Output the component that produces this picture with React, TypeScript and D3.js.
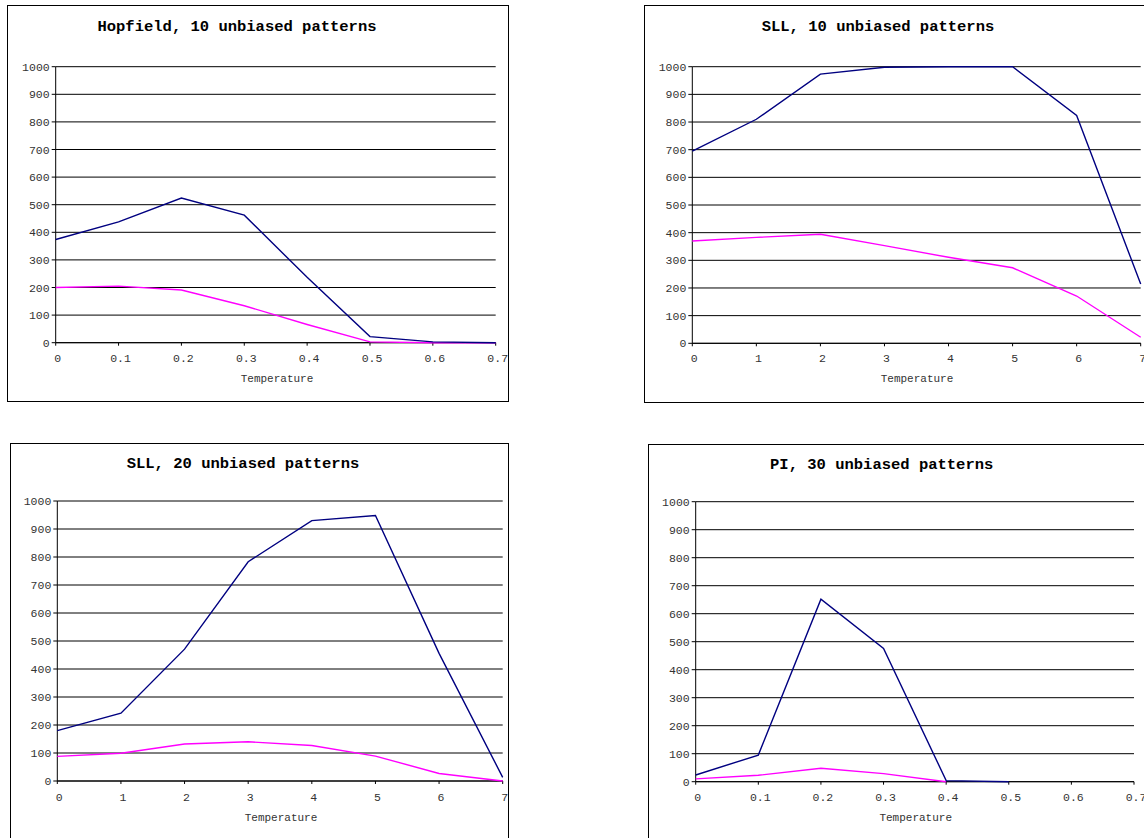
import React from "react";
import * as d3 from "d3";

// ---------- data ----------
const titles = [
  "Hopfield, 10 unbiased patterns",
  "SLL, 10 unbiased patterns",
  "SLL, 20 unbiased patterns",
  "PI, 30 unbiased patterns",
];
const yTicks = [0, 100, 200, 300, 400, 500, 600, 700, 800, 900, 1000];
const xTicksSmall = [0, 0.1, 0.2, 0.3, 0.4, 0.5, 0.6, 0.7];
const xTicksLarge = [0, 1, 2, 3, 4, 5, 6, 7];
const xLabelsSmall = ["0", "0.1", "0.2", "0.3", "0.4", "0.5", "0.6", "0.7"];
const xLabelsLarge = ["0", "1", "2", "3", "4", "5", "6", "7"];

// Hopfield, 10 patterns
const hopX = [0, 0.1, 0.2, 0.3, 0.4, 0.5, 0.6, 0.7];
const hopNavy = [374, 438, 524, 462, 237, 22, 3, 0];
const hopMagenta = [200, 205, 191, 134, 66, 3, 0, 0];

// SLL, 10 patterns
const sll10X = [0, 1, 2, 3, 4, 5, 6, 7];
const sll10Navy = [695, 810, 973, 998, 1000, 1000, 824, 214];
const sll10Magenta = [370, 383, 394, 353, 311, 273, 171, 22];

// SLL, 20 patterns
const sll20X = [0, 1, 2, 3, 4, 5, 6, 7];
const sll20Navy = [180, 242, 471, 783, 930, 948, 456, 13];
const sll20Magenta = [88, 99, 132, 140, 127, 89, 27, 0];

// PI, 30 patterns
const piNavyX = [0, 0.1, 0.2, 0.3, 0.4, 0.5];
const piNavy = [24, 95, 652, 476, 4, 0];
const piMagentaX = [0, 0.1, 0.2, 0.3, 0.4];
const piMagenta = [10, 23, 48, 29, 0];

const xAxisTitle = "Temperature";

// ---------- layout ----------
type Layout = {
  box: [number, number, number, number]; // x0,y0,x1,y1
  plot: [number, number, number, number]; // left, top, right, bottom
  titleX: number;
  titleY: number;
  xLabelY: number;
  axisTitleX: number;
  axisTitleY: number;
};

const layouts: Layout[] = [
  { box: [7.5, 5.5, 508.5, 401.5], plot: [55.7, 66.7, 495.7, 342.7], titleX: 237, titleY: 31, xLabelY: 362, axisTitleX: 277, axisTitleY: 382 },
  { box: [644.5, 5.5, 1160, 402.5], plot: [692.3, 66.7, 1140.7, 343.3], titleX: 878, titleY: 31, xLabelY: 362, axisTitleX: 917, axisTitleY: 382 },
  { box: [10.5, 443.5, 508.5, 860], plot: [57.3, 501, 502.7, 781], titleX: 243, titleY: 467.5, xLabelY: 800.5, axisTitleX: 281, axisTitleY: 820.5 },
  { box: [648.5, 444.5, 1160, 860], plot: [695.7, 501.7, 1134, 781.7], titleX: 881.7, titleY: 468.5, xLabelY: 801, axisTitleX: 915.7, axisTitleY: 821 },
];

type Series = { xs: number[]; ys: number[]; color: string };
type Panel = {
  title: string;
  xDomain: [number, number];
  xTicks: number[];
  xLabels: string[];
  series: Series[];
};

const NAVY = "#000080";
const MAGENTA = "#ff00ff";

const panels: Panel[] = [
  {
    title: titles[0],
    xDomain: [0, 0.7],
    xTicks: xTicksSmall,
    xLabels: xLabelsSmall,
    series: [
      { xs: hopX, ys: hopMagenta, color: MAGENTA },
      { xs: hopX, ys: hopNavy, color: NAVY },
    ],
  },
  {
    title: titles[1],
    xDomain: [0, 7],
    xTicks: xTicksLarge,
    xLabels: xLabelsLarge,
    series: [
      { xs: sll10X, ys: sll10Magenta, color: MAGENTA },
      { xs: sll10X, ys: sll10Navy, color: NAVY },
    ],
  },
  {
    title: titles[2],
    xDomain: [0, 7],
    xTicks: xTicksLarge,
    xLabels: xLabelsLarge,
    series: [
      { xs: sll20X, ys: sll20Magenta, color: MAGENTA },
      { xs: sll20X, ys: sll20Navy, color: NAVY },
    ],
  },
  {
    title: titles[3],
    xDomain: [0, 0.7],
    xTicks: xTicksSmall,
    xLabels: xLabelsSmall,
    series: [
      { xs: piMagentaX, ys: piMagenta, color: MAGENTA },
      { xs: piNavyX, ys: piNavy, color: NAVY },
    ],
  },
];

const MONO = "'Liberation Mono', 'Courier New', monospace";

function ChartPanel({ panel, layout, idx }: { panel: Panel; layout: Layout; idx: number }) {
  const [l, t, r, b] = layout.plot;
  const x = d3.scaleLinear().domain(panel.xDomain).range([l, r]);
  const y = d3.scaleLinear().domain([0, 1000]).range([b, t]);
  const line = d3
    .line<[number, number]>()
    .x((d) => x(d[0]))
    .y((d) => y(d[1]));
  const [bx0, by0, bx1, by1] = layout.box;
  const clipId = `clip-${idx}`;
  return (
    <g>
      <defs>
        <clipPath id={clipId}>
          <rect x={bx0} y={by0} width={bx1 - bx0} height={by1 - by0} />
        </clipPath>
      </defs>
      <rect x={bx0} y={by0} width={bx1 - bx0} height={by1 - by0} fill="#fff" stroke="#000" strokeWidth={1} />
      <g clipPath={`url(#${clipId})`}>
        <text x={layout.titleX} y={layout.titleY} textAnchor="middle" fontFamily={MONO} fontWeight="bold" fontSize={15.5} fill="#000">
          {panel.title}
        </text>
        {/* gridlines */}
        {yTicks.map((v) => (
          <line key={"g" + v} x1={l} x2={r} y1={y(v)} y2={y(v)} stroke="#000" strokeWidth={1} />
        ))}
        {/* y ticks and labels */}
        {yTicks.map((v) => (
          <g key={"y" + v}>
            <line x1={l - 4} x2={l} y1={y(v)} y2={y(v)} stroke="#000" strokeWidth={1} />
            <text x={l - 6} y={y(v)} dy="0.35em" textAnchor="end" fontFamily={MONO} fontSize={11.5} fill="#333">
              {v}
            </text>
          </g>
        ))}
        {/* axes */}
        <line x1={l} x2={l} y1={t} y2={b} stroke="#000" strokeWidth={1} />
        <line x1={l} x2={r} y1={b} y2={b} stroke="#000" strokeWidth={1} />
        {panel.xTicks.map((v, i) => (
          <g key={"x" + i}>
            <line x1={x(v)} x2={x(v)} y1={b} y2={b + 3} stroke="#000" strokeWidth={1} />
            <text x={x(v) + 2} y={layout.xLabelY} textAnchor="middle" fontFamily={MONO} fontSize={11.5} fill="#333">
              {panel.xLabels[i]}
            </text>
          </g>
        ))}
        <text x={layout.axisTitleX} y={layout.axisTitleY} textAnchor="middle" fontFamily={MONO} fontSize={11} fill="#333">
          {xAxisTitle}
        </text>
        {panel.series.map((s, i) => (
          <path
            key={"s" + i}
            d={line(s.xs.map((xv, j) => [xv, s.ys[j]] as [number, number])) || ""}
            fill="none"
            stroke={s.color}
            strokeWidth={1.4}
          />
        ))}
      </g>
    </g>
  );
}

export default function App() {
  return (
    <svg
      width={1144}
      height={838}
      style={{ position: "absolute", left: 0, top: 0, display: "block", background: "#fff" }}
    >
      <rect x={0} y={0} width={1144} height={838} fill="#fff" />
      {panels.map((p, i) => (
        <ChartPanel key={i} panel={p} layout={layouts[i]} idx={i} />
      ))}
    </svg>
  );
}
